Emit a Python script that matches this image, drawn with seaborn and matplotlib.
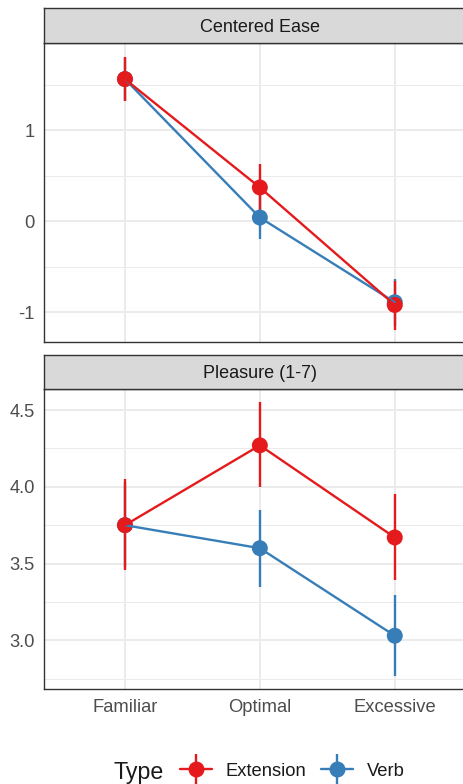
import matplotlib
matplotlib.use("Agg")
import matplotlib.pyplot as plt
import seaborn as sns
import pandas as pd
from matplotlib.lines import Line2D
from matplotlib.legend_handler import HandlerTuple
from matplotlib.ticker import MultipleLocator

# ---------------- data ----------------
categories = ["Familiar", "Optimal", "Excessive"]
types = ["Extension", "Verb"]

ease_ext = [1.56, 0.37, -0.92]
ease_ext_lo = [1.32, 0.11, -1.19]
ease_ext_hi = [1.80, 0.63, -0.66]
ease_verb = [1.56, 0.04, -0.89]
ease_verb_lo = [1.32, -0.20, -1.15]
ease_verb_hi = [1.79, 0.28, -0.63]

pleas_ext = [3.75, 4.27, 3.67]
pleas_ext_lo = [3.46, 4.00, 3.39]
pleas_ext_hi = [4.05, 4.55, 3.95]
pleas_verb = [3.75, 3.60, 3.03]
pleas_verb_lo = [3.48, 3.345, 2.77]
pleas_verb_hi = [4.03, 3.85, 3.295]

panel_titles = ["Centered Ease", "Pleasure (1-7)"]
ease_ticks = [-1, 0, 1]
ease_ticklabels = ["-1", "0", "1"]
pleas_ticks = [3.0, 3.5, 4.0, 4.5]
pleas_ticklabels = ["3.0", "3.5", "4.0", "4.5"]

palette = {"Extension": "#E41A1C", "Verb": "#377EB8"}

def make_df(ext, ext_lo, ext_hi, verb, verb_lo, verb_hi):
    rows = []
    for t, m, lo, hi in [("Verb", verb, verb_lo, verb_hi), ("Extension", ext, ext_lo, ext_hi)]:
        for c, a, b, h in zip(categories, m, lo, hi):
            rows.append(dict(Condition=c, Type=t, mean=a, lo=b, hi=h))
    df = pd.DataFrame(rows)
    df["x"] = pd.Categorical(df["Condition"], categories=categories).codes
    return df

df_ease = make_df(ease_ext, ease_ext_lo, ease_ext_hi, ease_verb, ease_verb_lo, ease_verb_hi)
df_pleas = make_df(pleas_ext, pleas_ext_lo, pleas_ext_hi, pleas_verb, pleas_verb_lo, pleas_verb_hi)

# ---------------- style ----------------
sns.set_theme(style="white")
plt.rcParams["font.family"] = ["Liberation Sans", "DejaVu Sans"]
plt.rcParams["axes.unicode_minus"] = False

W, H = 463, 784
fig = plt.figure(figsize=(W / 100, H / 100), dpi=100)

def px(l, t, r, b):
    return [l / W, 1 - b / H, (r - l) / W, (b - t) / H]

XR = 475.7
ax1 = fig.add_axes(px(44, 43.3, XR, 342.3))
st1 = fig.add_axes(px(44, 8.3, XR, 43.3))
ax2 = fig.add_axes(px(44, 389.3, XR, 689))
st2 = fig.add_axes(px(44, 354.7, XR, 389.3))

LW = 1.7
GRID = "#EBEBEB"
BORDER = "#333333"
TICK_FS = 13.2

def draw(ax, df, ylim, ticks, ticklabels, minor):
    for t in ["Verb", "Extension"]:
        d = df[df.Type == t]
        ax.vlines(d["x"], d["lo"], d["hi"], color=palette[t], lw=LW, zorder=3)
    sns.scatterplot(data=df, x="x", y="mean", hue="Type", palette=palette,
                    s=132, edgecolor="none", linewidth=0, legend=False, ax=ax, zorder=4)
    sns.lineplot(data=df, x="x", y="mean", hue="Type", hue_order=["Verb", "Extension"],
                 palette=palette, lw=LW, legend=False, ax=ax, zorder=5, sort=False,
                 errorbar=None)
    ax.set_xlim(-0.6, 2.6)
    ax.set_ylim(*ylim)
    ax.set_yticks(ticks)
    ax.set_yticklabels(ticklabels)
    ax.yaxis.set_minor_locator(MultipleLocator(minor))
    ax.set_xticks(range(len(categories)))
    ax.set_xlabel("")
    ax.set_ylabel("")
    ax.grid(True, which="major", color=GRID, lw=1.4)
    ax.grid(True, which="minor", axis="y", color=GRID, lw=0.7)
    ax.set_axisbelow(True)
    for s in ax.spines.values():
        s.set_color(BORDER)
        s.set_linewidth(1.0)
        s.set_visible(True)
    ax.tick_params(axis="both", which="major", length=3, width=0.9, color=BORDER,
                   labelsize=TICK_FS, labelcolor="#4D4D4D", pad=3.5)
    ax.tick_params(which="minor", length=0)

draw(ax1, df_ease, (-1.33, 1.953), ease_ticks, ease_ticklabels, 0.5)
draw(ax2, df_pleas, (2.683, 4.635), pleas_ticks, pleas_ticklabels, 0.25)

ax1.tick_params(axis="x", which="both", length=0, labelbottom=False)
ax2.set_xticklabels(categories)
ax2.tick_params(axis="x", pad=4.2)

for st, title, base in zip([st1, st2], panel_titles, [0.314, 0.318]):
    st.set_facecolor("#D9D9D9")
    st.set_xticks([])
    st.set_yticks([])
    st.set_xlim(-0.6, 2.6)
    st.set_ylim(0, 1)
    for s in st.spines.values():
        s.set_color(BORDER)
        s.set_linewidth(1.0)
    st.text(1.0, base, title, ha="center", va="baseline", fontsize=13, color="#1A1A1A")

# ---------------- legend ----------------
fig.text(114 / W, 1 - 772 / H, "Type", fontsize=16.7, ha="left", va="center", color="#1A1A1A")
handles = []
for t in types:
    h_line = Line2D([], [], color=palette[t], lw=LW, marker="o", markersize=11.5,
                    markeredgewidth=0)
    v_line = Line2D([], [], color=palette[t], lw=0, marker="|", markersize=21,
                    markeredgewidth=LW)
    handles.append((v_line, h_line))
fig.legend(handles, types, handler_map={tuple: HandlerTuple(ndivide=1)},
           loc="center left", bbox_to_anchor=(180 / W, 1 - 771 / H), ncol=2,
           frameon=False, borderpad=0, borderaxespad=0, fontsize=13.2,
           handlelength=1.75, handletextpad=0.75, columnspacing=0.8,
           labelcolor="#1A1A1A", numpoints=1)

fig.savefig("out.png", dpi=100)
